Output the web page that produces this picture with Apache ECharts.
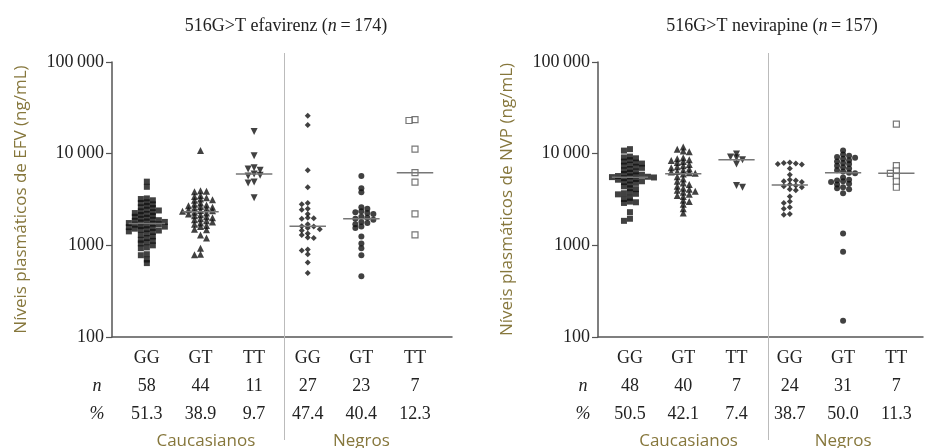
<!DOCTYPE html>
<html>
<head>
<meta charset="utf-8">
<title>516G>T efavirenz / nevirapine</title>
<script src="https://cdn.jsdelivr.net/npm/echarts@6.0.0/dist/echarts.min.js"></script>
<style>
  html, body { margin: 0; padding: 0; background: #fff; }
  #chart { width: 925px; height: 448px; }
</style>
</head>
<body>
<div id="chart"></div>
<script>
// categorias e linhas de baixo
const genotypes = ['GG', 'GT', 'TT', 'GG', 'GT', 'TT']
const groups = ['Caucasianos', 'Negros']
const efvN = [58, 44, 11, 27, 23, 7]
const efvPct = ['51.3', '38.9', '9.7', '47.4', '40.4', '12.3']
const nvpN = [48, 40, 7, 24, 31, 7]
const nvpPct = ['50.5', '42.1', '7.4', '38.7', '50.0', '11.3']

// efavirenz (ng/mL)
const efvCaucGG = [4950, 4350, 3250, 3200, 3100, 2950, 2900, 2800, 2700, 2600, 2550, 2450, 2400, 2350, 2300,
  2250, 2200, 2150, 2100, 2050, 2000, 1950, 1900, 1880, 1850, 1820, 1800, 1780, 1750, 1720, 1700, 1680, 1650,
  1620, 1600, 1580, 1550, 1520, 1500, 1480, 1450, 1420, 1400, 1350, 1300, 1250, 1200, 1150, 1120, 1080, 1050,
  1000, 950, 930, 800, 780, 700, 640]
const efvCaucGT = [10800, 3950, 3900, 3850, 3500, 3400, 3300, 3200, 3150, 3100, 2900, 2800, 2750, 2700, 2650,
  2600, 2550, 2500, 2450, 2400, 2380, 2350, 2300, 2250, 2200, 2150, 2100, 2050, 2000, 1950, 1900, 1850, 1800,
  1750, 1700, 1650, 1600, 1500, 1480, 1300, 1200, 930, 800, 790]
const efvCaucTT = [17500, 9500, 7000, 6800, 6600, 6000, 5800, 5700, 4900, 4800, 3300]
const efvNegGG = [26000, 20500, 6600, 4300, 2900, 2800, 2500, 2450, 2200, 2000, 1980, 1950, 1700, 1620, 1600,
  1550, 1500, 1450, 1350, 1300, 1220, 1200, 900, 880, 800, 650, 500]
const efvNegGT = [5700, 4200, 3800, 2600, 2500, 2350, 2300, 2250, 2200, 2050, 2000, 1950, 1900, 1800, 1750,
  1700, 1600, 1550, 1250, 1050, 930, 780, 460]
const efvNegTT = [23500, 23000, 11200, 6200, 4900, 2200, 1300]

// nevirapina (ng/mL)
const nvpCaucGG = [11200, 10800, 9300, 9100, 8900, 8500, 8200, 8000, 7800, 7600, 7400, 7200, 7000, 6800, 6600,
  6400, 6200, 6000, 5900, 5800, 5700, 5650, 5600, 5550, 5500, 5400, 5300, 5200, 5100, 5000, 4900, 4800, 4600,
  4400, 4200, 4100, 3800, 3700, 3650, 3600, 3300, 3200, 3000, 2950, 2900, 2300, 1950, 1850]
const nvpCaucGT = [11800, 11200, 10700, 10500, 9000, 8800, 8600, 8400, 8200, 8000, 7600, 7400, 7200, 7000, 6800,
  6600, 6400, 6300, 6200, 6100, 6000, 5600, 5300, 5000, 4800, 4600, 4400, 4200, 4100, 4000, 3900, 3800, 3600,
  3500, 3400, 3100, 3000, 2800, 2500, 2250]
const nvpCaucTT = [9900, 9200, 9000, 8600, 7700, 4500, 4300]
const nvpNegGG = [8000, 7900, 7800, 7700, 7600, 6900, 5900, 5200, 5100, 5000, 4900, 4600, 4500, 4400, 4300,
  4100, 4000, 3400, 3000, 2900, 2600, 2500, 2200, 2150]
const nvpNegGT = [10800, 9800, 9500, 9200, 9000, 8800, 8500, 8200, 7900, 7700, 7400, 7100, 6900, 6600, 6400,
  6200, 6100, 5500, 5200, 5100, 5000, 4900, 4700, 4600, 4300, 4200, 4100, 3700, 1350, 850, 150]
const nvpNegTT = [21000, 7400, 6500, 6100, 5700, 5000, 4300]

const yTicks = [100, 1000, 10000, 100000]

const efvSets = [efvCaucGG, efvCaucGT, efvCaucTT, efvNegGG, efvNegGT, efvNegTT]
const nvpSets = [nvpCaucGG, nvpCaucGT, nvpCaucTT, nvpNegGG, nvpNegGT, nvpNegTT]

// layout
const GRID_TOP = 62
const GRID_H = 275
const DECADE_PX = GRID_H / 3
const ROW_H = 28
const panels = [
  { left: 112, width: 340, xMin: -0.65, xMax: 5.69, divider: 2.56, sets: efvSets, n: efvN, pct: efvPct,
    title: '516G>T efavirenz (', total: 174, titleX: 281, yName: 'Níveis plasmáticos de EFV (ng/mL)' },
  { left: 598, width: 325, xMin: -0.6, xMax: 5.5, divider: 2.59, sets: nvpSets, n: nvpN, pct: nvpPct,
    title: '516G>T nevirapine (', total: 157, titleX: 767, yName: 'Níveis plasmáticos de NVP (ng/mL)' }
]

const markers = [
  { symbol: 'rect', size: 6 },
  { symbol: 'triangle', size: 7 },
  { symbol: 'triangle', size: 7, rotate: 180 },
  { symbol: 'diamond', size: 6 },
  { symbol: 'circle', size: 6 },
  { symbol: 'rect', size: 6, hollow: true }
]

const SERIF = '"Liberation Serif", "DejaVu Serif", serif'
const SANS = '"Open Sans", "Noto Sans", sans-serif'
const OLIVE = '#86773c'
const AXIS = '#555'

function median(arr) {
  const s = arr.slice().sort((a, b) => a - b)
  const m = Math.floor(s.length / 2)
  return s.length % 2 ? s[m] : (s[m - 1] + s[m]) / 2
}

// beeswarm simples: desloca cada ponto para o lado até não encostar nos anteriores
function swarm(vals, unitPx, sx, sy) {
  const placed = []
  return vals.map((v, idx) => {
    const y = Math.log10(v) * DECADE_PX
    for (let k = 0; ; k++) {
      const cand = k === 0 ? [0] : (idx % 2 ? [-k, k] : [k, -k])
      for (const c of cand) {
        const x = c * sx
        const hit = placed.some(p => Math.abs(p.x - x) < sx - 0.01 && Math.abs(p.y - y) < sy)
        if (!hit) {
          placed.push({ x, y })
          return x / unitPx
        }
      }
    }
  })
}

function tickFmt(v) {
  return v >= 10000 ? String(v).replace(/\B(?=(\d{3})+(?!\d))/g, '\u2009') : String(v)
}

const grid = []
const xAxis = []
const yAxis = []
const series = []
const title = []

panels.forEach((p, pi) => {
  grid.push({ left: p.left, top: GRID_TOP, width: p.width, height: GRID_H, outerBoundsMode: 'none' })
  const unitPx = p.width / (p.xMax - p.xMin)
  // eixo principal com genótipo, n e %
  xAxis.push({
    gridIndex: pi, type: 'value', min: p.xMin, max: p.xMax,
    axisLine: { show: true, onZero: false, lineStyle: { color: AXIS, width: 1.5 } },
    axisTick: { show: false },
    splitLine: { show: false },
    axisLabel: {
      customValues: [0, 1, 2, 3, 4, 5],
      margin: 7,
      formatter: v => `{g|${genotypes[v]}}\n{n|${p.n[v]}}\n{n|${p.pct[v]}}`,
      rich: {
        g: { fontFamily: SERIF, fontSize: 18, color: '#222', lineHeight: ROW_H },
        n: { fontFamily: SERIF, fontSize: 18, color: '#222', lineHeight: ROW_H }
      }
    }
  })
  // eixo só para Caucasianos / Negros
  xAxis.push({
    gridIndex: pi, type: 'value', min: p.xMin, max: p.xMax, position: 'bottom',
    axisLine: { show: false }, axisTick: { show: false }, splitLine: { show: false },
    axisLabel: {
      customValues: [1.1, 4],
      margin: 96,
      formatter: v => (v < 2.5 ? groups[0] : groups[1]),
      fontFamily: SANS, fontSize: 17, color: OLIVE
    }
  })
  yAxis.push({
    gridIndex: pi, type: 'log', logBase: 10, min: yTicks[0], max: yTicks[yTicks.length - 1],
    name: p.yName, nameLocation: 'middle', nameGap: 82,
    nameTextStyle: { fontFamily: SANS, fontSize: 17, color: OLIVE },
    axisLine: { show: true, onZero: false, lineStyle: { color: AXIS, width: 1.5 } },
    axisTick: { show: true, length: 6, lineStyle: { color: AXIS, width: 1.2 } },
    minorTick: { show: false },
    splitLine: { show: false },
    axisLabel: { formatter: tickFmt, fontFamily: SERIF, fontSize: 18, color: '#222', margin: 8 }
  })
  title.push({
    text: `{a|${p.title}}{i|n}{a|\u2009=\u2009${p.total})}`,
    left: p.titleX, top: 12, textAlign: 'center',
    textStyle: {
      fontWeight: 'normal',
      rich: {
        a: { fontFamily: SERIF, fontSize: 18, color: '#222', fontWeight: 'normal' },
        i: { fontFamily: SERIF, fontSize: 18, color: '#222', fontWeight: 'normal', fontStyle: 'italic' }
      }
    }
  })

  p.sets.forEach((vals, gi) => {
    const m = markers[gi]
    const offs = swarm(vals, unitPx, 6, 3.5)
    series.push({
      type: 'scatter', xAxisIndex: pi * 2, yAxisIndex: pi,
      symbol: m.symbol, symbolSize: m.size, symbolRotate: m.rotate || 0,
      itemStyle: m.hollow
        ? { color: '#fff', borderColor: '#555', borderWidth: 1.2 }
        : { color: '#111' },
      data: vals.map((v, k) => [gi + offs[k], v]),
      z: 3,
      silent: true
    })
    const med = median(vals)
    series.push({
      type: 'line', xAxisIndex: pi * 2, yAxisIndex: pi,
      symbol: 'none',
      lineStyle: { color: '#777', width: 1.5 },
      data: [[gi - 0.34, med], [gi + 0.34, med]],
      z: 4,
      silent: true
    })
  })
})

const chart = echarts.init(document.getElementById('chart'))
chart.setOption({
  animation: false,
  title,
  grid,
  xAxis,
  yAxis,
  series
})

// linha divisória e rótulos n / %
const graphic = []
panels.forEach((p, pi) => {
  const x = Math.round(chart.convertToPixel({ xAxisIndex: pi * 2 }, p.divider)) + 0.5
  graphic.push({
    type: 'line', silent: true, z: 1,
    shape: { x1: x, y1: 53, x2: x, y2: 440 },
    style: { stroke: '#bbb', lineWidth: 1 }
  })
  const base = GRID_TOP + GRID_H
  ;[['n', 49], ['%', 49 + ROW_H]].forEach(([t, dy]) => {
    graphic.push({
      type: 'text', silent: true,
      style: {
        text: t, x: p.left - 15, y: base + dy, align: 'center', verticalAlign: 'middle',
        font: `italic 18px ${SERIF}`, fill: '#222'
      }
    })
  })
})
chart.setOption({ graphic })
</script>
</body>
</html>
